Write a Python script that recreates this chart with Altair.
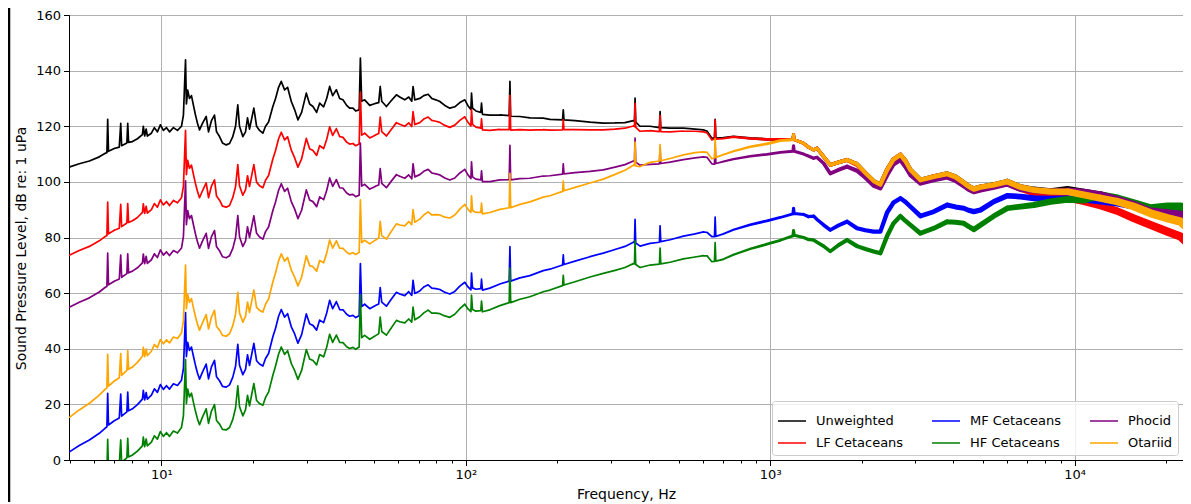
import altair as alt
import pandas as pd

# ---- data ----
freq_hz = [
    5.0, 5.37, 5.8, 6.25, 6.54, 6.62, 6.66, 6.7, 7.0, 7.27,
    7.35, 7.4, 7.7, 7.75, 7.8, 8.03, 8.34, 8.66, 8.72, 8.81,
    8.91, 8.99, 9.27, 9.48, 9.7, 9.92, 10.15, 10.39, 10.63, 10.95,
    11.29, 11.64, 11.81, 12.0, 12.08, 12.2, 12.36, 12.55, 12.74, 12.94,
    13.14, 13.34, 13.64, 14.03, 14.28, 14.6, 14.94, 15.17, 15.52, 15.87,
    16.32, 16.74, 17.16, 17.52, 17.82, 18.05, 18.51, 18.89, 19.18, 19.47,
    20.12, 20.54, 21.01, 21.54, 21.98, 22.49, 23.23, 23.71, 24.26, 24.76,
    25.39, 25.97, 26.71, 27.38, 28.08, 28.88, 29.92, 30.68, 31.46, 32.35,
    33.1, 34.11, 34.9, 35.7, 36.52, 37.56, 38.51, 39.48, 40.6, 41.53,
    42.58, 43.46, 44.63, 45.04, 45.49, 46.53, 48.33, 49.82, 50.85, 51.74,
    52.33, 52.93, 54.84, 56.66, 59.16, 60.66, 63.0, 64.94, 66.43, 67.09,
    67.96, 70.59, 72.76, 75.17, 77.3, 79.68, 82.13, 85.3, 88.59, 92.0,
    95.56, 99.25, 101.5, 103.9, 104.4, 105.2, 107.9, 112.0, 112.6, 113.4,
    119.9, 129.4, 138.8, 139.6, 140.4, 150.5, 162.4, 179.6, 188.9, 207.9,
    209.0, 210.1, 228.4, 255.8, 282.9, 309.2, 333.4, 355.1, 358.1, 359.7,
    361.6, 373.6, 402.9, 432.4, 434.7, 437.0, 468.9, 518.6, 566.6, 603.4,
    620.5, 643.0, 655.8, 659.3, 662.8, 702.1, 757.3, 859.5, 975.3, 1079,
    1187, 1193, 1199, 1287, 1334, 1388, 1425, 1497, 1575, 1674,
    1788, 1928, 2054, 2187, 2301, 2421, 2539, 2677, 2780, 2888,
    3115, 3445, 3813, 4060, 4324, 4481, 4666, 4908, 5428, 6006,
    6643, 7346, 8339, 9463, 10730, 12180, 13820, 15670, 17780, 20180,
    22320, 23900,
]

unweighted = [
    105.4, 106.5, 107.5, 109.0, 110.3, 110.5, 122.5, 111.0, 112.0, 112.5,
    121.0, 113.0, 114.0, 121.0, 114.2, 114.5, 115.5, 117.0, 120.0, 116.5,
    119.0, 116.5, 117.5, 119.5, 118.0, 120.5, 118.5, 119.5, 118.0, 119.5,
    118.5, 120.0, 124.0, 143.9, 128.0, 133.0, 130.0, 131.0, 127.5, 124.0,
    121.0, 118.7, 121.0, 123.5, 118.0, 122.0, 124.0, 118.0, 116.3, 114.0,
    113.3, 113.8, 116.3, 120.0, 127.7, 120.0, 116.3, 118.0, 123.0, 119.0,
    126.5, 120.0, 118.5, 117.5, 120.0, 121.5, 127.1, 130.0, 134.0, 136.1,
    133.1, 134.0, 128.9, 126.0, 122.3, 125.0, 131.9, 128.0, 127.1, 125.0,
    128.3, 127.0, 130.0, 134.3, 131.0, 133.1, 130.0, 129.5, 127.5, 126.5,
    126.5, 125.5, 125.9, 144.5, 129.0, 129.5, 127.5, 128.0, 128.3, 128.5,
    134.3, 129.0, 127.1, 129.0, 131.3, 130.5, 129.5, 130.5, 129.0, 134.3,
    129.5, 130.0, 131.0, 131.5, 130.0, 129.5, 128.9, 127.5, 126.5, 127.0,
    128.5, 129.5, 127.5, 126.0, 131.9, 126.5, 125.5, 125.0, 128.3, 124.3,
    124.0, 124.1, 123.8, 136.1, 123.6, 123.5, 123.0, 122.9, 122.5, 122.3,
    125.9, 122.3, 122.0, 121.5, 121.1, 121.2, 121.3, 122.0, 121.8, 130.1,
    121.5, 120.0, 120.0, 119.5, 125.3, 119.5, 119.3, 119.3, 119.0, 118.7,
    118.2, 115.7, 115.7, 122.5, 115.7, 115.9, 116.3, 115.7, 115.3, 115.3,
    115.3, 117.0, 115.2, 113.9, 112.5, 111.5, 112.1, 109.1, 106.1, 107.0,
    107.9, 106.4, 103.2, 100.3, 99.0, 104.3, 108.0, 109.7, 107.5, 104.3,
    100.7, 101.9, 102.9, 101.8, 99.7, 98.4, 97.4, 98.1, 98.9, 100.1,
    98.1, 97.2, 96.6, 97.3, 96.3, 95.3, 93.6, 91.7, 89.3, 88.7,
    88.1, 86.9,
]

lf_cetaceans = [
    73.7, 75.3, 76.8, 78.8, 80.4, 80.7, 92.7, 81.3, 82.6, 83.3,
    91.9, 83.9, 85.2, 92.2, 85.4, 86.0, 87.2, 89.0, 92.1, 88.7,
    91.2, 88.8, 90.0, 92.2, 90.9, 93.5, 91.7, 92.9, 91.5, 93.3,
    92.5, 94.3, 98.4, 118.5, 102.6, 107.7, 104.9, 106.0, 102.7, 99.3,
    96.5, 94.3, 96.8, 99.6, 94.3, 98.5, 100.7, 94.9, 93.4, 91.3,
    90.9, 91.5, 94.4, 98.3, 106.2, 98.6, 95.2, 97.1, 102.2, 98.4,
    106.2, 99.9, 98.6, 97.9, 100.6, 102.3, 108.2, 111.3, 115.5, 117.8,
    115.1, 116.2, 111.4, 108.7, 105.3, 108.3, 115.6, 111.9, 111.3, 109.5,
    113.0, 112.0, 115.2, 119.8, 116.7, 119.1, 116.3, 116.0, 114.3, 113.6,
    113.8, 113.0, 113.6, 132.3, 116.8, 117.5, 115.8, 116.5, 117.0, 117.4,
    123.3, 118.1, 116.5, 118.6, 121.3, 120.7, 120.0, 121.2, 119.9, 125.3,
    120.6, 121.3, 122.6, 123.3, 122.1, 121.8, 121.4, 120.3, 119.6, 120.4,
    122.1, 123.4, 121.5, 120.1, 126.0, 120.7, 119.7, 119.3, 122.7, 118.7,
    118.5, 118.9, 118.8, 131.1, 118.6, 118.8, 118.6, 118.8, 118.6, 118.7,
    122.3, 118.8, 118.8, 118.7, 118.7, 119.0, 119.3, 120.1, 119.9, 128.2,
    119.6, 118.2, 118.4, 118.1, 123.9, 118.1, 118.0, 118.3, 118.2, 118.0,
    117.6, 115.1, 115.4, 122.2, 115.4, 115.6, 116.2, 115.6, 115.3, 115.3,
    115.3, 117.0, 115.2, 113.9, 112.5, 111.5, 112.1, 109.1, 106.1, 107.0,
    107.9, 106.1, 103.0, 100.1, 98.9, 104.3, 108.0, 109.7, 107.5, 103.7,
    100.1, 101.9, 102.5, 101.5, 99.5, 98.0, 97.1, 98.0, 98.7, 99.5,
    97.5, 95.9, 94.7, 94.1, 92.9, 91.4, 89.5, 86.9, 84.5, 82.1,
    80.3, 77.3,
]

mf_cetaceans = [
    3.0, 5.2, 7.2, 9.6, 11.5, 11.9, 24.0, 12.6, 14.1, 15.1,
    23.7, 15.8, 17.3, 24.4, 17.7, 18.4, 19.9, 21.9, 25.0, 21.6,
    24.2, 21.9, 23.3, 25.6, 24.3, 27.1, 25.4, 26.7, 25.5, 27.4,
    26.8, 28.7, 32.9, 53.0, 37.2, 42.3, 39.4, 40.6, 37.3, 34.0,
    31.2, 29.1, 31.6, 34.5, 29.2, 33.5, 35.8, 29.9, 28.5, 26.5,
    26.2, 27.0, 29.8, 33.7, 41.6, 34.1, 30.7, 32.6, 37.8, 34.0,
    41.9, 35.7, 34.5, 33.8, 36.5, 38.3, 44.3, 47.4, 51.7, 54.1,
    51.4, 52.6, 47.9, 45.4, 42.0, 45.1, 52.5, 49.0, 48.4, 46.7,
    50.3, 49.4, 52.8, 57.4, 54.4, 56.9, 54.1, 54.0, 52.4, 51.7,
    52.0, 51.2, 51.9, 70.6, 55.2, 56.0, 54.4, 55.2, 55.7, 56.1,
    62.0, 56.8, 55.3, 57.5, 60.3, 59.7, 59.1, 60.5, 59.2, 64.6,
    59.9, 60.8, 62.2, 63.0, 61.8, 61.6, 61.3, 60.3, 59.7, 60.6,
    62.5, 63.9, 62.3, 61.2, 67.2, 61.9, 61.4, 61.6, 65.0, 61.1,
    61.8, 63.3, 64.3, 76.7, 64.3, 65.5, 66.3, 68.1, 68.6, 70.1,
    73.8, 70.3, 71.5, 73.1, 74.4, 75.7, 76.8, 78.3, 78.2, 86.5,
    78.0, 76.9, 77.9, 78.3, 84.2, 78.5, 79.2, 80.5, 81.3, 82.0,
    81.8, 80.3, 80.3, 87.3, 80.4, 81.3, 82.8, 84.6, 86.0, 87.2,
    88.5, 90.5, 88.6, 88.3, 87.5, 87.7, 86.5, 84.5, 82.7, 84.3,
    85.7, 83.3, 82.6, 82.1, 82.1, 89.0, 92.5, 94.1, 92.8, 91.1,
    87.7, 89.3, 91.7, 91.0, 90.5, 89.8, 89.3, 89.9, 92.9, 95.0,
    94.7, 94.1, 93.9, 94.0, 93.8, 93.2, 92.5, 91.4, 89.9, 89.8,
    89.6, 87.5,
]

hf_cetaceans = [
    -13.6, -11.4, -9.4, -7.0, -5.1, -4.7, 7.4, -4.0, -2.5, -1.5,
    7.2, -0.8, 0.8, 7.8, 1.1, 1.8, 3.2, 5.1, 8.2, 4.8,
    7.5, 5.1, 6.4, 8.7, 7.5, 10.2, 8.5, 9.8, 8.5, 10.4,
    9.7, 11.7, 15.9, 36.1, 20.3, 25.5, 22.7, 24.0, 20.7, 17.5,
    14.7, 12.7, 15.4, 18.4, 13.2, 17.6, 19.9, 14.2, 12.9, 11.0,
    10.8, 11.7, 14.6, 18.7, 26.7, 19.2, 15.9, 18.0, 23.2, 19.5,
    27.5, 21.4, 20.3, 19.7, 22.5, 24.4, 30.5, 33.8, 38.1, 40.6,
    38.0, 39.3, 34.7, 32.2, 29.0, 32.2, 39.7, 36.3, 35.8, 34.2,
    37.9, 37.1, 40.5, 45.2, 42.3, 44.9, 42.3, 42.2, 40.7, 40.1,
    40.5, 39.8, 40.6, 59.4, 44.0, 44.8, 43.4, 44.3, 44.9, 45.4,
    51.4, 46.2, 44.9, 47.2, 50.2, 49.7, 49.3, 50.7, 49.6, 55.0,
    50.4, 51.5, 52.9, 53.9, 52.8, 52.8, 52.6, 51.8, 51.3, 52.4,
    54.4, 56.0, 54.4, 53.3, 59.3, 54.1, 53.5, 53.7, 57.1, 53.3,
    54.0, 55.5, 56.6, 69.0, 56.6, 57.8, 58.7, 60.5, 61.1, 62.7,
    66.4, 62.9, 64.1, 65.8, 67.1, 68.2, 69.2, 70.6, 70.5, 78.8,
    70.3, 69.2, 70.1, 70.4, 76.2, 70.5, 71.1, 72.3, 73.0, 73.5,
    73.4, 71.3, 71.4, 78.2, 71.5, 72.2, 73.8, 75.9, 77.6, 79.0,
    80.6, 82.5, 80.8, 80.0, 79.3, 79.1, 78.3, 76.9, 75.0, 77.2,
    79.1, 76.9, 75.9, 75.0, 74.3, 80.5, 85.0, 87.7, 86.0, 84.5,
    81.5, 83.3, 85.7, 85.5, 85.1, 84.0, 82.9, 84.5, 87.7, 90.5,
    91.1, 91.7, 92.9, 93.7, 93.5, 95.3, 94.1, 92.3, 90.5, 91.1,
    91.1, 88.7,
]

phocid = [
    55.0, 56.7, 58.3, 60.4, 62.1, 62.4, 74.4, 63.0, 64.3, 65.1,
    73.7, 65.7, 67.0, 74.1, 67.3, 67.9, 69.1, 70.9, 74.0, 70.6,
    73.2, 70.7, 72.0, 74.1, 72.8, 75.5, 73.7, 74.8, 73.5, 75.3,
    74.5, 76.2, 80.4, 100.4, 84.6, 89.7, 86.8, 87.9, 84.6, 81.2,
    78.4, 76.2, 78.7, 81.5, 76.1, 80.3, 82.5, 76.7, 75.2, 73.1,
    72.7, 73.4, 76.1, 80.0, 87.9, 80.3, 76.8, 78.7, 83.8, 80.0,
    87.8, 81.5, 80.2, 79.4, 82.1, 83.8, 89.7, 92.8, 97.0, 99.3,
    96.6, 97.7, 92.9, 90.3, 86.8, 89.8, 97.1, 93.5, 92.9, 91.1,
    94.6, 93.6, 96.9, 101.4, 98.4, 100.8, 97.9, 97.7, 96.0, 95.3,
    95.5, 94.7, 95.2, 113.9, 98.5, 99.1, 97.4, 98.1, 98.6, 98.9,
    104.8, 99.5, 97.9, 100.0, 102.6, 102.0, 101.3, 102.5, 101.1, 106.5,
    101.8, 102.6, 103.8, 104.5, 103.2, 102.9, 102.5, 101.4, 100.7, 101.4,
    103.2, 104.5, 102.6, 101.2, 107.2, 101.8, 101.0, 100.7, 104.0, 100.1,
    100.1, 100.7, 100.8, 113.1, 100.7, 101.2, 101.3, 102.1, 102.2, 102.8,
    106.5, 102.9, 103.3, 103.8, 104.3, 105.3, 106.2, 107.5, 107.4, 115.7,
    107.1, 106.0, 106.3, 106.5, 112.3, 106.6, 107.1, 108.0, 108.6, 109.0,
    108.8, 106.5, 106.4, 113.5, 106.6, 107.3, 108.2, 109.2, 109.9, 110.6,
    111.0, 113.0, 111.0, 110.0, 109.3, 108.5, 108.8, 106.7, 103.0, 104.3,
    105.5, 104.0, 101.5, 98.6, 97.7, 102.5, 106.3, 107.9, 105.5, 102.5,
    99.5, 100.7, 101.7, 100.5, 98.6, 97.4, 96.5, 97.1, 98.1, 99.3,
    97.4, 97.0, 96.5, 96.8, 96.3, 95.3, 93.6, 91.7, 89.3, 88.7,
    88.1, 86.9,
]

otariid = [
    15.4, 18.0, 20.4, 23.3, 25.5, 25.9, 38.0, 26.6, 28.4, 29.6,
    38.3, 30.4, 32.2, 39.3, 32.6, 33.4, 35.1, 37.3, 40.5, 37.2,
    39.9, 37.5, 39.1, 41.5, 40.4, 43.3, 41.8, 43.2, 42.1, 44.2,
    43.7, 45.7, 50.0, 70.1, 54.4, 59.5, 56.7, 58.0, 54.7, 51.5,
    48.7, 46.7, 49.3, 52.3, 47.1, 51.4, 53.8, 48.0, 46.7, 44.8,
    44.5, 45.4, 48.3, 52.4, 60.3, 52.9, 49.6, 51.6, 56.8, 53.1,
    61.1, 54.9, 53.8, 53.2, 56.0, 57.9, 64.0, 67.3, 71.6, 74.1,
    71.5, 72.8, 68.3, 65.8, 62.6, 65.8, 73.4, 69.9, 69.5, 67.9,
    71.7, 70.9, 74.3, 79.1, 76.2, 78.8, 76.2, 76.1, 74.7, 74.1,
    74.5, 73.9, 74.7, 93.5, 78.2, 79.0, 77.7, 78.7, 79.3, 79.8,
    85.8, 80.7, 79.4, 81.9, 84.9, 84.5, 84.2, 85.7, 84.6, 90.0,
    85.5, 86.6, 88.1, 89.2, 88.1, 88.2, 88.1, 87.3, 87.0, 88.1,
    90.2, 91.9, 90.2, 89.0, 95.0, 89.7, 89.0, 89.0, 92.4, 88.5,
    89.0, 90.1, 90.7, 103.1, 90.7, 91.9, 92.8, 94.5, 95.0, 96.6,
    100.3, 96.8, 98.0, 99.6, 101.0, 102.7, 104.2, 106.0, 105.9, 114.3,
    105.7, 105.5, 107.0, 107.5, 113.4, 107.6, 108.4, 109.7, 110.5, 110.8,
    110.6, 108.3, 108.6, 115.5, 108.8, 109.8, 111.0, 112.6, 113.7, 114.8,
    115.2, 117.0, 115.2, 113.9, 112.5, 111.5, 112.1, 109.1, 106.1, 107.0,
    107.9, 106.4, 103.2, 100.3, 99.0, 104.3, 108.0, 109.7, 107.5, 104.3,
    100.7, 101.9, 102.9, 101.8, 99.7, 98.4, 97.4, 98.1, 98.9, 100.1,
    98.1, 97.1, 96.5, 96.5, 95.3, 94.1, 92.9, 91.1, 88.7, 86.9,
    85.7, 82.7,
]

# width of the noisy band around each curve, in dB
spread_db = [
    0.0, 0.0, 0.0, 0.0, 0.0, 0.0, 0.0, 0.0, 0.0, 0.0,
    0.0, 0.0, 0.0, 0.0, 0.0, 0.0, 0.0, 0.0, 0.0, 0.0,
    0.0, 0.0, 0.0, 0.0, 0.0, 0.0, 0.0, 0.0, 0.0, 0.0,
    0.0, 0.0, 0.0, 0.0, 0.0, 0.0, 0.0, 0.0, 0.0, 0.0,
    0.0, 0.0, 0.0, 0.0, 0.0, 0.0, 0.0, 0.0, 0.0, 0.0,
    0.0, 0.0, 0.0, 0.0, 0.0, 0.0, 0.0, 0.0, 0.0, 0.0,
    0.0, 0.0, 0.0, 0.0, 0.0, 0.0, 0.0, 0.0, 0.0, 0.0,
    0.0, 0.0, 0.0, 0.0, 0.0, 0.0, 0.0, 0.0, 0.0, 0.0,
    0.0, 0.0, 0.0, 0.0, 0.0, 0.0, 0.0, 0.0, 0.0, 0.0,
    0.0, 0.0, 0.0, 0.0, 0.0, 0.0, 0.0, 0.0, 0.0, 0.0,
    0.0, 0.0, 0.0, 0.0, 0.0, 0.0, 0.0, 0.0, 0.0, 0.0,
    0.0, 0.0, 0.0, 0.0, 0.0, 0.0, 0.0, 0.0, 0.0, 0.0,
    0.0, 0.0, 0.0, 0.0, 0.0, 0.0, 0.0, 0.0, 0.0, 0.0,
    0.0, 0.0, 0.0, 0.0, 0.0, 0.0, 0.0, 0.0, 0.0, 0.0,
    0.0, 0.0, 0.0, 0.0, 0.0, 0.0, 0.0, 0.0, 0.0, 0.0,
    0.0, 0.0, 0.0, 0.0, 0.0, 0.0, 0.0, 0.0, 0.0, 0.0,
    0.0, 0.0, 0.0, 0.0, 0.0, 0.1, 0.2, 0.3, 0.4, 0.4,
    0.5, 0.5, 0.5, 0.5, 0.6, 0.6, 0.6, 0.7, 0.7, 0.8,
    0.8, 0.9, 0.9, 0.9, 0.9, 1.0, 1.0, 1.0, 1.0, 1.0,
    1.1, 1.1, 1.2, 1.2, 1.2, 1.2, 1.3, 1.3, 1.3, 1.4,
    1.5, 1.6, 1.7, 1.8, 1.9, 2.0, 2.1, 2.2, 2.3, 2.4,
    2.4, 2.4,
]

# drawing order (also legend order; the legend fills column by column)
series_names = ["Unweighted", "LF Cetaceans", "MF Cetaceans",
                "HF Cetaceans", "Phocid", "Otariid"]
series_colors = ["#000000", "#ff0000", "#0000ff",
                 "#008000", "#800080", "#ffa500"]
series_values = [unweighted, lf_cetaceans, mf_cetaceans,
                 hf_cetaceans, phocid, otariid]

x_tick_values = [5, 6, 7, 8, 9, 10, 20, 30, 40, 50, 60, 70, 80, 90,
                 100, 200, 300, 400, 500, 600, 700, 800, 900,
                 1000, 2000, 3000, 4000, 5000, 6000, 7000, 8000, 9000,
                 10000, 20000]
y_tick_values = [0, 20, 40, 60, 80, 100, 120, 140, 160]
x_domain = [4.97, 22700]

rows = []
for name, vals in zip(series_names, series_values):
    for f, v, s in zip(freq_hz, vals, spread_db):
        rows.append({"series": name, "freq": f, "spl": v, "spread": s})
df = pd.DataFrame(rows)

FONT = "DejaVu Sans"
major_test = "indexof([10, 100, 1000, 10000], datum.value) >= 0"

x_axis = alt.Axis(
    values=x_tick_values,
    labelExpr=("datum.value == 10 ? '10\u00b9' : datum.value == 100 ? '10\u00b2' : "
               "datum.value == 1000 ? '10\u00b3' : datum.value == 10000 ? '10\u2074' : ''"),
    labelOverlap=False,
    labelFlush=False,
    tickSize={"condition": {"test": major_test, "value": 5.5}, "value": 3},
    gridOpacity={"condition": {"test": major_test, "value": 1}, "value": 0},
    grid=True,
    labelPadding=3,
    titleY=34,
    titleBaseline="middle",
)

y_axis = alt.Axis(
    values=y_tick_values,
    tickSize=5.5,
    grid=True,
    labelPadding=3,
    titleX=-48,
    titleY=233,
    titleAngle=270,
    titleAlign="center",
    titleBaseline="middle",
)

base = alt.Chart(df)

layers = []
for name in series_names:
    layers.append(
        base.transform_filter(alt.datum.series == name)
        .mark_trail(clip=True)
        .encode(
            x=alt.X("freq:Q", title="Frequency, Hz",
                    scale=alt.Scale(type="log", domain=x_domain, nice=False),
                    axis=x_axis),
            y=alt.Y("spl:Q", title="Sound Pressure Level, dB re: 1 uPa",
                    scale=alt.Scale(domain=[0, 160], nice=False),
                    axis=y_axis),
            color=alt.Color("series:N", title=None,
                            scale=alt.Scale(domain=series_names, range=series_colors),
                            legend=alt.Legend(
                                orient="bottom-right", columns=3,
                                symbolType="stroke", symbolSize=784,
                                symbolStrokeWidth=1.5, labelOffset=9,
                                columnPadding=25, rowPadding=-5,
                                padding=5, offset=5,
                                fillColor="rgba(255,255,255,0.8)",
                                strokeColor="#cccccc", cornerRadius=3,
                                labelFontSize=13, labelFont=FONT,
                                labelColor="black", labelLimit=300)),
            size=alt.Size("spread:Q", legend=None,
                          scale=alt.Scale(domain=[0, 3], range=[1.7, 10.0])),
            order=alt.Order("freq:Q"),
        )
    )

border = alt.Chart(pd.DataFrame({"k": [0]})).mark_rule(
    color="black", strokeWidth=2.5
).encode(x=alt.value(-60), y=alt.value(-8), y2=alt.value(500))

chart = (
    alt.layer(border, *layers)
    .properties(
        width=1114,
        height=445,
        padding={"left": 61, "top": 7, "right": 0, "bottom": 42},
        autosize=alt.AutoSizeParams(type="none"),
        background="white",
    )
    .configure_view(stroke="black", strokeWidth=1)
    .configure_axis(
        labelFont=FONT, titleFont=FONT, labelFontSize=13, titleFontSize=14,
        labelColor="black", titleColor="black", titleFontWeight="normal",
        domainColor="black", tickColor="black", tickWidth=1,
        gridColor="#b0b0b0", gridWidth=1,
    )
)

chart.save("out.html", embed_options={"renderer": "svg", "actions": False})
